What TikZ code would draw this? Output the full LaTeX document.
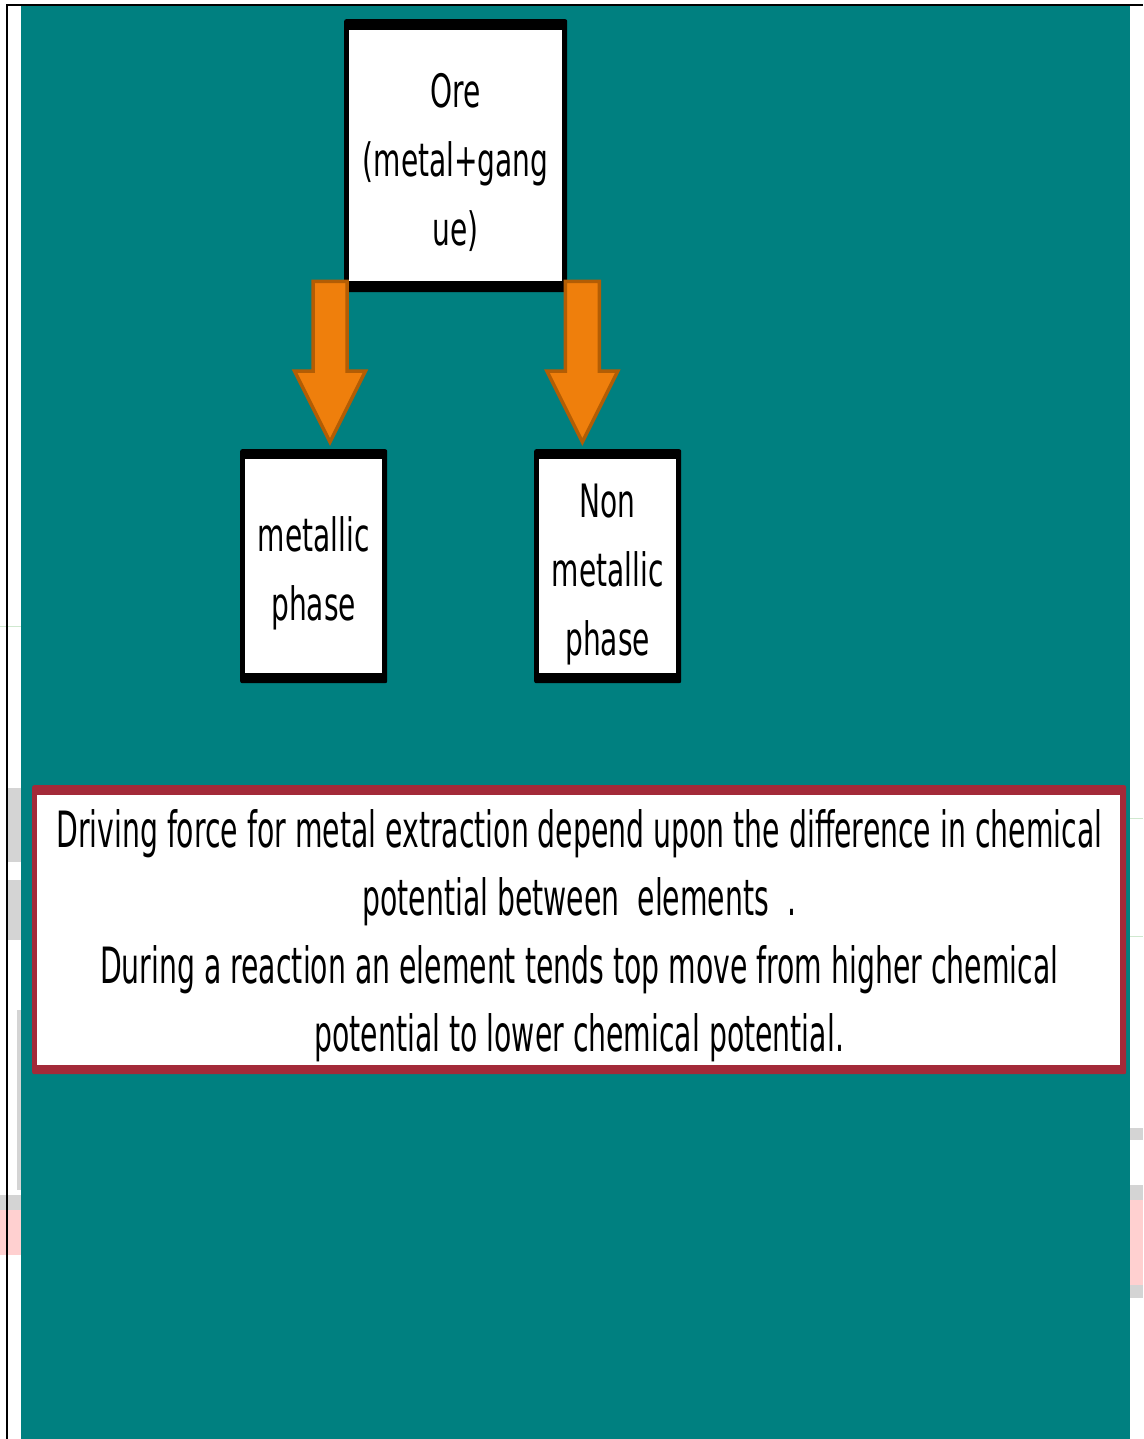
\documentclass[tikz,border=0pt]{standalone}
\usepackage{fontspec}
\usetikzlibrary{calc}
\newfontfamily\boxfont[FakeStretch=0.61]{DejaVu Sans}
\newfontfamily\notefont[FakeStretch=0.566]{DejaVu Sans}
\definecolor{tealbg}{HTML}{008080}
\definecolor{arrowfill}{HTML}{EF7F0C}
\definecolor{arrowline}{HTML}{B35D04}
\definecolor{notered}{HTML}{A32A39}
\definecolor{faint}{HTML}{D4D4D4}
\definecolor{faintpink}{HTML}{FFD0D0}
\definecolor{faintgreen}{HTML}{CFE8CF}
\tikzset{
  blackbox/.style={rectangle, fill=black, rounded corners=2pt, inner sep=0pt, anchor=north west},
  redbox/.style={rectangle, fill=notered, rounded corners=2pt, inner sep=0pt, anchor=north west},
  boxtext/.style={font=\boxfont\fontsize{46}{69}\selectfont, align=center, anchor=base, inner sep=0pt},
  notetext/.style={font=\notefont\fontsize{50}{68}\selectfont, align=center, anchor=base, inner sep=0pt},
  blockarrow/.style={fill=arrowfill, draw=arrowline, line width=3.5pt, line join=miter},
}
\newcommand\downblockarrow[2]{%
  \path[blockarrow] let \p1=(#1), \p2=(#2) in
    (\x1-17pt,\y1) -- (\x1-17pt,\y2+71pt) -- (\x1-35.5pt,\y2+71pt) -- (\x1,\y2)
    -- (\x1+35.5pt,\y2+71pt) -- (\x1+17pt,\y2+71pt) -- (\x1+17pt,\y1) -- cycle;}
\begin{document}
\begin{tikzpicture}[x=1pt,y=-1pt]
\useasboundingbox (0,0) rectangle (1143,1439);
\fill[white] (0,0) rectangle (1143,1439);
% faint remnants of the page behind
\fill[faint] (8,788) rectangle (21,862);
\fill[faint] (8,880) rectangle (21,940);
\fill[faint] (17,1010) rectangle (21,1190);
\fill[faint] (0,1195) rectangle (21,1210);
\fill[faintpink] (0,1210) rectangle (21,1255);
\fill[faint] (1130,1128) rectangle (1143,1140);
\fill[faint] (1130,1185) rectangle (1143,1200);
\fill[faintpink] (1130,1200) rectangle (1143,1285);
\fill[faint] (1130,1285) rectangle (1143,1298);
\draw[faintgreen, line width=1pt] (0,626) -- (21,626);
\draw[faintgreen, line width=1pt] (1130,818) -- (1143,818);
\draw[faintgreen, line width=1pt] (1130,936) -- (1143,936);
% teal panel and frame lines
\fill[tealbg] (21,6) rectangle (1130,1439);
\draw[black, line width=2pt] (6,5) -- (1143,5);
\draw[black, line width=2pt] (7,5) -- (7,1439);
% boxes
\node[blackbox, minimum width=223pt, minimum height=273pt] (ore) at (344,19) {};
\fill[white] ($(ore.north west)+(5,11)$) rectangle ($(ore.south east)+(-5,-11)$);
\node[blackbox, minimum width=147pt, minimum height=234pt] (met) at (240,449) {};
\fill[white] ($(met.north west)+(5,10)$) rectangle ($(met.south east)+(-5,-10)$);
\node[blackbox, minimum width=147pt, minimum height=234pt] (nonmet) at (534,449) {};
\fill[white] ($(nonmet.north west)+(5,10)$) rectangle ($(nonmet.south east)+(-5,-10)$);
\node[redbox, minimum width=1094pt, minimum height=289pt] (note) at (32,785) {};
\fill[white] ($(note.north west)+(5,10)$) rectangle ($(note.south east)+(-6,-9)$);
% labels (base anchor = baseline of the last line)
\node[boxtext] (oret) at ($(ore.north)+(0,227)$) {Ore\\(metal+gang\\ue)};
\node[boxtext] (mett) at ($(met.north)+(0,171)$) {metallic\\phase};
\node[boxtext] (nonmett) at ($(nonmet.north)+(0,206)$) {Non\\metallic\\phase};
\node[notetext] (notet) at ($(note.north)+(0,266)$) {Driving force for metal extraction depend upon the difference in chemical\\potential between\ \ elements\ \ .\\During a reaction an element tends top move from higher chemical\\potential to lower chemical potential.};
% arrows
\coordinate (a1s) at ($(ore.south west)+(-14,-11)$);
\coordinate (a1e) at ($(met.north)+(16.5,-7)$);
\coordinate (a2s) at ($(ore.south east)+(15,-11)$);
\coordinate (a2e) at ($(nonmet.north)+(-25.5,-7)$);
\downblockarrow{a1s}{a1e}
\downblockarrow{a2s}{a2e}
\end{tikzpicture}
\end{document}
